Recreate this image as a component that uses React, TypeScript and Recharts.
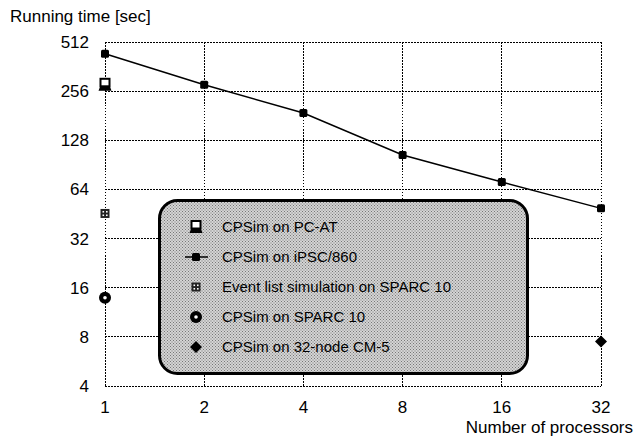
import React from 'react';
import { ComposedChart, Line, Scatter, XAxis, YAxis, CartesianGrid, Legend } from 'recharts';

const FONT = '"Liberation Sans", Arial, Helvetica, sans-serif';

const processors = [1, 2, 4, 8, 16, 32];
const yTicks = [4, 8, 16, 32, 64, 128, 256, 512];
const ipscTimes = [434, 280, 188, 104, 71, 49];
const pcatPoint = { p: 1, t: 280 };
const eventListPoint = { p: 1, t: 45.6 };
const sparcPoint = { p: 1, t: 13.9 };
const cm5Point = { p: 32, t: 7.5 };
const seriesNames = [
  'CPSim on PC-AT',
  'CPSim on iPSC/860',
  'Event list simulation on SPARC 10',
  'CPSim on SPARC 10',
  'CPSim on 32-node CM-5',
];

const ipscData = processors.map((p, i) => ({ p, t: ipscTimes[i] }));
const pcatData = [pcatPoint];
const eventData = [eventListPoint];
const sparcData = [sparcPoint];
const cm5Data = [cm5Point];

const PcAtMark = ({ cx, cy }: any) => (
  <g>
    <rect x={cx - 4.5} y={cy - 6} width={9} height={7.5} fill="#fff" stroke="#000" strokeWidth={2} />
    <path d={`M${cx - 6.5},${cy + 6} L${cx + 6.5},${cy + 6} L${cx + 5},${cy + 2} L${cx - 5},${cy + 2} Z`} fill="#000" />
  </g>
);

const SquareMark = ({ cx, cy }: any) => (
  <rect x={cx - 4} y={cy - 4} width={8} height={8} rx={1.5} fill="#000" />
);

const EventMark = ({ cx, cy }: any) => (
  <g>
    <rect x={cx - 4.5} y={cy - 4.5} width={9} height={9} fill="#222" />
    <rect x={cx - 2.5} y={cy - 2.5} width={1.6} height={1.6} fill="#fff" />
    <rect x={cx + 1} y={cy - 2.5} width={1.6} height={1.6} fill="#fff" />
    <rect x={cx - 2.5} y={cy + 1} width={1.6} height={1.6} fill="#fff" />
    <rect x={cx + 1} y={cy + 1} width={1.6} height={1.6} fill="#fff" />
  </g>
);

const RingMark = ({ cx, cy }: any) => (
  <g>
    <circle cx={cx} cy={cy} r={6} fill="#000" />
    <circle cx={cx} cy={cy} r={1.8} fill="#fff" />
  </g>
);

const DiamondMark = ({ cx, cy }: any) => (
  <path d={`M${cx},${cy - 6} L${cx + 6},${cy} L${cx},${cy + 6} L${cx - 6},${cy} Z`} fill="#000" />
);

const LegendBox = () => {
  const rows = [28, 58, 88, 118, 148];
  const mx = 38;
  const tx = 64;
  const marks = [
    <PcAtMark cx={mx} cy={rows[0]} />,
    <g>
      <line x1={mx - 11} x2={mx + 12} y1={rows[1]} y2={rows[1]} stroke="#000" strokeWidth={1.5} />
      <SquareMark cx={mx} cy={rows[1]} />
    </g>,
    <EventMark cx={mx} cy={rows[2]} />,
    <RingMark cx={mx} cy={rows[3]} />,
    <DiamondMark cx={mx} cy={rows[4]} />,
  ];
  return (
    <svg width={371} height={176} style={{ display: 'block' }}>
      <defs>
        <pattern id="stipple" width={3} height={3} patternUnits="userSpaceOnUse">
          <rect x={0} y={0} width={3} height={3} fill="#d4d4d4" />
          <rect x={0} y={0} width={1} height={1} fill="#777" />
          <rect x={1.5} y={1.5} width={1} height={1} fill="#777" />
        </pattern>
      </defs>
      <rect x={1.5} y={1.5} width={368} height={173} rx={18} ry={18} fill="url(#stipple)" stroke="#000" strokeWidth={3} />
      {seriesNames.map((name, i) => (
        <g key={name}>
          {marks[i]}
          <text x={tx} y={rows[i]} dy="0.36em" fontFamily={FONT} fontSize={15} fill="#000">
            {name}
          </text>
        </g>
      ))}
    </svg>
  );
};

export default function App() {
  return (
    <div style={{ position: 'absolute', left: 0, top: 0, width: 637, height: 437, background: '#fff' }}>
      <ComposedChart width={637} height={437} margin={{ top: 42, right: 36, bottom: 0, left: 0 }}>
        <CartesianGrid stroke="#000" strokeDasharray="1.5 1.5" strokeWidth={1} shapeRendering="crispEdges" />
        <XAxis
          dataKey="p"
          type="number"
          scale="log"
          domain={[1, 32]}
          ticks={processors}
          axisLine={false}
          tickLine={false}
          tickSize={0}
          tickMargin={15}
          height={51}
          interval={0}
          tick={{ fontSize: 17, fill: '#000', fontFamily: FONT }}
          label={{
            value: 'Number of processors',
            content: (props: any) => {
              const vb = props.viewBox || { x: 105, y: 386, width: 496, height: 51 };
              return (
                <text x={vb.x + vb.width + 32} y={vb.y + 47} textAnchor="end" fontFamily={FONT} fontSize={17} fill="#000">
                  Number of processors
                </text>
              );
            },
          }}
        />
        <YAxis
          dataKey="t"
          type="number"
          scale="log"
          domain={[4, 512]}
          ticks={yTicks}
          axisLine={false}
          tickLine={false}
          tickSize={0}
          tickMargin={16}
          width={105}
          interval={0}
          tick={{ fontSize: 17, fill: '#000', fontFamily: FONT }}
          label={{
            value: 'Running time [sec]',
            content: (props: any) => {
              const vb = props.viewBox || { x: 0, y: 42, width: 105, height: 344 };
              return (
                <text x={vb.x + 10} y={vb.y - 20} textAnchor="start" fontFamily={FONT} fontSize={17} fill="#000">
                  Running time [sec]
                </text>
              );
            },
          }}
        />
        <Line
          data={ipscData}
          dataKey="t"
          name={seriesNames[1]}
          stroke="#000"
          strokeWidth={1.5}
          isAnimationActive={false}
          dot={(props: any) => <SquareMark key={`d${props.index}`} cx={props.cx} cy={props.cy} />}
          activeDot={false}
        />
        <Scatter data={pcatData} dataKey="t" name={seriesNames[0]} isAnimationActive={false} shape={(props: any) => <PcAtMark cx={props.cx} cy={props.cy} />} />
        <Scatter data={eventData} dataKey="t" name={seriesNames[2]} isAnimationActive={false} shape={(props: any) => <EventMark cx={props.cx} cy={props.cy} />} />
        <Scatter data={sparcData} dataKey="t" name={seriesNames[3]} isAnimationActive={false} shape={(props: any) => <RingMark cx={props.cx} cy={props.cy} />} />
        <Scatter data={cm5Data} dataKey="t" name={seriesNames[4]} isAnimationActive={false} shape={(props: any) => <DiamondMark cx={props.cx} cy={props.cy} />} />
        <Legend
          layout="vertical"
          align="center"
          verticalAlign="middle"
          wrapperStyle={{ left: 158, top: 199, width: 371, height: 176 }}
          content={() => <LegendBox />}
        />
      </ComposedChart>
    </div>
  );
}
